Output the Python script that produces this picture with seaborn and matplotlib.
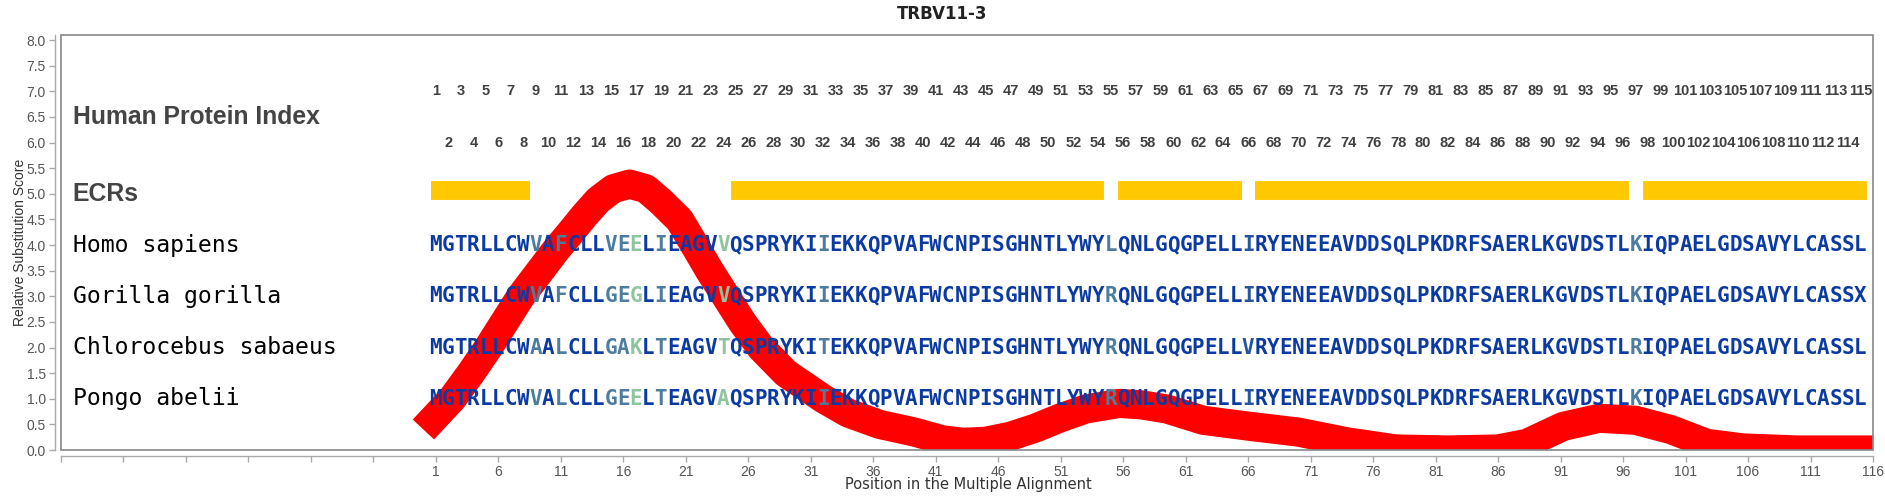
import matplotlib
matplotlib.use("Agg")
import matplotlib.pyplot as plt
import seaborn as sns
import pandas as pd
from matplotlib.patches import Rectangle

title = "TRBV11-3"
species = ["Homo sapiens", "Gorilla gorilla", "Chlorocebus sabaeus", "Pongo abelii"]
species_y = [4.0, 3.0, 2.0, 1.0]
sequences = [
    "MGTRLLCWVAFCLLVEELIEAGVVQSPRYKIIEKKQPVAFWCNPISGHNTLYWYLQNLGQGPELLIRYENEEAVDDSQLPKDRFSAERLKGVDSTLKIQPAELGDSAVYLCASSL",
    "MGTRLLCWVAFCLLGEGLIEAGVVQSPRYKIIEKKQPVAFWCNPISGHNTLYWYRQNLGQGPELLIRYENEEAVDDSQLPKDRFSAERLKGVDSTLKIQPAELGDSAVYLCASSX",
    "MGTRLLCWAALCLLGAKLTEAGVTQSPRYKITEKKQPVAFWCNPISGHNTLYWYRQNLGQGPELLVRYENEEAVDDSQLPKDRFSAERLKGVDSTLRIQPAELGDSAVYLCASSL",
    "MGTRLLCWVALCLLGEELTEAGVAQSPRYKIIEKKQPVAFWCNPISGHNTLYWYRQNLGQGPELLIRYENEEAVDDSQLPKDRFSAERLKGVDSTLKIQPAELGDSAVYLCASSL",
]
# alignment columns by how the residues are shaded
steel_cols = [9, 11, 15, 16, 19, 32, 55, 97]
green_cols = [17, 24]
similar_cols = [66]

ecr_start = [1, 25, 56, 67, 98]
ecr_end = [8, 54, 65, 96, 115]

curve_pos = [0, 2.3, 3.8, 5.2, 6.5, 7.8, 9.2, 10.6, 11.8, 12.9, 14, 15.2, 16.5, 17.8, 19, 20.5,
             21.7, 22.9, 24.2, 25.5, 27, 29, 32, 34, 36.5, 39.3, 41.5, 43.2, 45, 47, 49, 50.9,
             53, 55.7, 57.5, 59.5, 62.4, 66.2, 70, 73.9, 77.8, 82, 86, 88.3, 91.2, 94.1, 97,
             99.8, 102.7, 105.6, 110, 116]
curve_score = [0.4, 1.0, 1.5, 2.0, 2.5, 3.0, 3.45, 3.9, 4.25, 4.58, 4.88, 5.1, 5.19, 5.1, 4.85, 4.49,
               4.0, 3.5, 3.0, 2.5, 2.0, 1.5, 1.0, 0.72, 0.5, 0.35, 0.2, 0.15, 0.17, 0.27, 0.43, 0.62,
               0.8, 0.91, 0.88, 0.8, 0.58, 0.46, 0.35, 0.16, 0.02, 0.0, 0.02, 0.13, 0.46, 0.62, 0.58,
               0.4, 0.13, 0.04, 0.0, 0.0]

sns.set_style("white")
plt.rcParams['font.family'] = ['Liberation Sans', 'DejaVu Sans']

fig = plt.figure(figsize=(18.85, 5), dpi=100)
ax = fig.add_axes([61 / 1885, 50 / 500, 1812 / 1885, 415 / 500])

curve = pd.DataFrame({"pos": curve_pos, "score": curve_score})
sns.lineplot(data=curve, x="pos", y="score", ax=ax, color="#ff0000", linewidth=21,
             solid_capstyle="butt", solid_joinstyle="round", zorder=2)

# ECR bars
ax.barh([5.07] * len(ecr_start), [e - s + 1 for s, e in zip(ecr_start, ecr_end)],
        left=[s - 0.5 for s in ecr_start], height=0.4, color="#ffc800",
        edgecolor="white", linewidth=0.8, zorder=1)

# protein index rows
for i in range(1, len(sequences[0]) + 1):
    ax.text(i, 7.0 if i % 2 else 6.0, str(i), ha="center", va="center",
            fontsize=10.5, fontweight="bold", color="#404040", zorder=3)

label_kw = dict(fontsize=17.8, fontweight="bold", color="#444444", va="center", ha="left")
ax.text(-28.05, 6.5, "Human Protein Index", **label_kw)
ax.text(-28.05, 5.0, "ECRs", **label_kw)

colors = {"dark": "#0b3aa2", "steel": "#4c7ca0", "green": "#8fc4a0", "mid": "#25569f"}
for name, y, seq in zip(species, species_y, sequences):
    ax.text(-28.05, y, name, fontsize=16.7, family="DejaVu Sans Mono", color="black",
            va="center", ha="left", zorder=3)
    for i, aa in enumerate(seq, start=1):
        if i in steel_cols:
            c = colors["steel"]
        elif i in green_cols:
            c = colors["green"]
        elif i in similar_cols:
            c = colors["mid"]
        else:
            c = colors["dark"]
        ax.text(i, y, aa, fontsize=15, fontweight="bold", family="DejaVu Sans Mono",
                color=c, ha="center", va="center", zorder=3)

ax.set_xlim(-29, 116)
ax.set_ylim(0, 8.1)
xt = list(range(-29, 117, 5))
ax.set_xticks(xt)
ax.set_xticklabels([str(t) if t >= 1 else "" for t in xt],
                   family=["Liberation Sans Narrow", "DejaVu Sans"], fontsize=9.5)
yt = [k * 0.5 for k in range(17)]
ax.set_yticks(yt)
ax.set_yticklabels([f"{t:.1f}" for t in yt], fontsize=8.5)
ax.tick_params(axis="both", direction="out", length=4, width=1, color="#aaaaaa",
               labelcolor="#555555", left=True, bottom=True, pad=3)
ax.set_xlabel("")
ax.set_ylabel("")

sns.despine(ax=ax, offset=4)
for sp in ["left", "bottom"]:
    ax.spines[sp].set_color("#aaaaaa")
    ax.spines[sp].set_linewidth(1)
ax.add_patch(Rectangle((0, 0), 1, 1, transform=ax.transAxes, fill=False,
                       edgecolor="#888888", linewidth=1.2, clip_on=False, zorder=5))

fig.text(0.5, 1 - 14 / 500, title, ha="center", va="center", fontsize=12,
         fontweight="bold", color="#222222", family="DejaVu Sans")
fig.text(20 / 1885, 1 - 242 / 500, "Relative Substitution Score", rotation=90,
         ha="center", va="center", fontsize=10, color="#333333")
fig.text(968 / 1885, 1 - 484 / 500, "Position in the Multiple Alignment",
         ha="center", va="center", fontsize=10.5, color="#333333",
         family=["Liberation Sans Narrow", "DejaVu Sans"])

fig.savefig("out.png", dpi=100)
